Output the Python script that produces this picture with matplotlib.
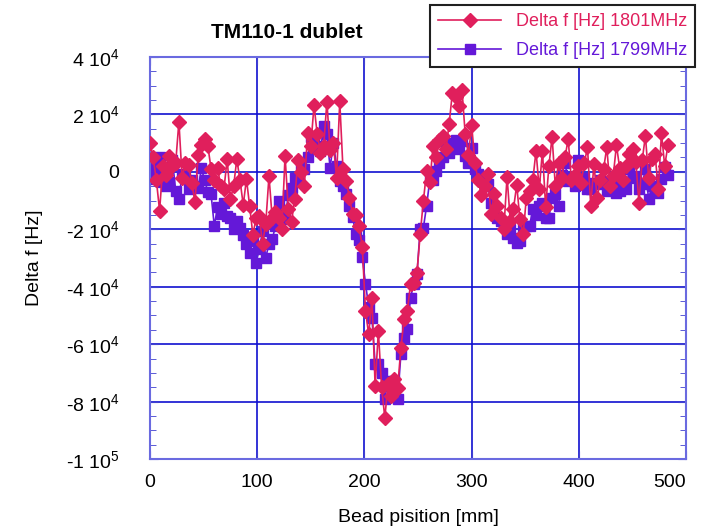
import numpy as np
import matplotlib
matplotlib.use("Agg")
import matplotlib.pyplot as plt
from matplotlib.ticker import MultipleLocator, FixedLocator

# bead position [mm]
position = np.arange(0, 486, 3)

# Delta f in units of 1e4 Hz
df_1801 = [
    1.0, 0.5, -0.3, -1.35, 0.2, -0.1, 0.55, 0.2, 0.3, 1.75,
    -0.2, 0.3, 0.25, -0.4, -1.05, 0.6, 0.95, 1.15, 0.9, 0.1,
    -0.3, 0.15, -0.5, -0.6, 0.44, -0.95, -0.5, 0.44, -0.3, -1.15,
    -0.25, -1.2, -2.2, -1.6, -1.55, -2.5, -1.8, -0.15, -1.6, -1.4,
    -1.6, -2.0, 0.56, -1.3, -1.75, -0.95, 0.42, 0.0, -0.5, 1.35,
    0.9, 2.32, 1.3, 0.67, 0.9, 2.44, 0.76, 1.0, -0.2, 2.45,
    0.1, -0.31, -0.9, -1.47, -1.5, -1.9, -2.6, -4.84, -5.66, -4.38,
    -7.46, -5.54, -7.48, -8.56, -7.4, -7.8, -7.2, -7.52, -6.12, -5.13,
    -4.84, -3.9, -3.86, -3.51, -2.17, -1.0, 0.03, -0.37, 0.91, 0.5,
    1.1, 1.25, 0.8, 1.66, 2.76, 2.6, 2.3, 2.85, 1.3, 0.6,
    1.63, 0.32, -0.3, -0.8, -0.5, -0.08, -1.47, -0.78, -1.2, -1.6,
    -2.0, -0.17, -1.7, -1.28, -0.46, -1.65, -2.17, -0.9, -0.66, -0.3,
    0.73, -0.6, 0.73, -1.24, 0.2, 1.22, -0.5, 0.32, -0.2, 0.5,
    1.14, -0.3, -0.1, 0.2, -0.4, 0.3, 0.85, -1.18, 0.27, -0.9,
    -0.3, 0.1, 0.85, -0.5, -0.14, 0.93, 0.13, -0.3, 0.2, 0.62,
    0.8, 0.35, -1.07, 0.4, 1.25, -0.2, 0.44, 0.62, -0.6, 1.35,
    0.2, 0.93,
]

df_1799 = [
    -0.24, 0.3, 0.05, 0.5, -0.37, -0.5, -0.37, 0.41, -0.66, -0.95,
    -0.08, -0.2, -0.6, -0.3, -0.5, -0.55, 0.12, -0.3, -0.69, -0.78,
    -1.88, -1.24, -1.47, -1.1, -1.53, -1.6, -2.0, -1.7, -1.94, -2.2,
    -2.52, -2.81, -2.4, -3.16, -2.7, -2.06, -2.99, -2.5, -2.35, -1.9,
    -1.01, -1.36, -1.65, -0.8, -0.55, -0.2, -0.3, 0.21, 0.1, 0.5,
    1.22, 1.1, 0.9, 0.73, 1.6, 1.3, 0.13, 1.02, 0.2, -0.31,
    -0.5, -0.78, -1.2, -1.57, -2.17, -2.38, -2.98, -3.89, -4.7, -5.08,
    -6.68, -6.7, -6.99, -7.9, -7.28, -7.3, -7.28, -7.9, -6.35, -5.77,
    -5.48, -4.38, -3.9, -3.56, -1.98, -1.94, -1.18, -0.25, -0.3, 0.03,
    0.3, 0.5, 0.91, 0.67, 1.0, 1.1, 0.8, 1.08, 0.56, 0.32,
    0.83, 0.1, -0.08, -0.14, -0.49, -0.43, -1.07, -1.47, -1.59, -1.7,
    -1.82, -2.17, -2.0, -2.3, -2.46, -2.4, -2.0, -1.88, -1.88, -1.3,
    -1.5, -1.18, -1.1, -1.59, -1.59, -0.9, -0.78, -1.18, -0.1, 0.32,
    -0.31, -0.2, -0.49, 0.41, -0.3, -0.2, -0.6, -0.6, -0.4, -0.43,
    -0.3, -0.37, -0.66, -0.43, -0.5, -0.72, -0.66, -0.4, -0.6, 0.09,
    -0.2, -0.14, -0.6, -0.43, 0.09, -0.95, -0.5, -0.6, -0.72, -0.25,
    0.17, -0.1,
]

xticks = [0, 100, 200, 300, 400, 500]
yticks = [4e4, 2e4, 0, -2e4, -4e4, -6e4, -8e4, -1e5]
ytick_labels = ["4 10$^{4}$", "2 10$^{4}$", "0", "-2 10$^{4}$",
                "-4 10$^{4}$", "-6 10$^{4}$", "-8 10$^{4}$", "-1 10$^{5}$"]

plt.rcParams["font.family"] = ["Liberation Sans", "DejaVu Sans"]
plt.rcParams["mathtext.default"] = "regular"
plt.rcParams["axes.unicode_minus"] = False

red = "#e01f5c"
violet = "#6418d8"
gridblue = "#1010d0"

fig = plt.figure(figsize=(7.14, 5.32), dpi=100)
ax = fig.add_axes([0.210, 0.137, 0.751, 0.756])

ax.plot(position, np.array(df_1801) * 1e4, color=red, marker="D", markersize=7,
        linewidth=1.2, label="Delta f [Hz] 1801MHz", zorder=3)
ax.plot(position, np.array(df_1799) * 1e4, color=violet, marker="s", markersize=7,
        linewidth=1.2, label="Delta f [Hz] 1799MHz", zorder=2)

ax.set_xlim(0, 500)
ax.set_ylim(-1e5, 4e4)
ax.xaxis.set_major_locator(FixedLocator(xticks))
ax.yaxis.set_major_locator(FixedLocator(yticks))
ax.set_yticklabels(ytick_labels)
ax.yaxis.set_minor_locator(MultipleLocator(5000))

ax.grid(True, which="major", color=gridblue, linewidth=1.2)
ax.set_axisbelow(True)
for sp in ax.spines.values():
    sp.set_color("#6a6ae0")
    sp.set_linewidth(1.5)

ax.tick_params(which="both", direction="in", colors="#4040d0", labelcolor="black",
               top=True, right=True, labelsize=14)
ax.tick_params(which="major", length=6)
ax.tick_params(which="minor", length=4)
ax.tick_params(axis="y", which="major", pad=22)
ax.tick_params(axis="x", which="major", pad=11)

ax.set_xlabel("Bead pisition [mm]", fontsize=14, labelpad=13)
ax.set_ylabel("Delta f [Hz]", fontsize=14, labelpad=16)

# last x label sits left of its tick, as in the original
ax.xaxis.get_major_ticks()[-1].label1.set_horizontalalignment("right")

fig.text(287 / 714, 1 - 32 / 532, "TM110-1 dublet", fontsize=15, fontweight="bold",
         ha="center", va="center")

leg = fig.legend(loc="upper right", bbox_to_anchor=(695 / 714, 1 - 5 / 532),
                 borderaxespad=0, fontsize=13, handlelength=3.5, numpoints=1,
                 fancybox=False, framealpha=1, edgecolor="#202020",
                 borderpad=0.45, labelspacing=0.65)
leg.get_frame().set_linewidth(1.5)
for txt, col in zip(leg.get_texts(), [red, violet]):
    txt.set_color(col)

fig.savefig("out.png", dpi=100)
